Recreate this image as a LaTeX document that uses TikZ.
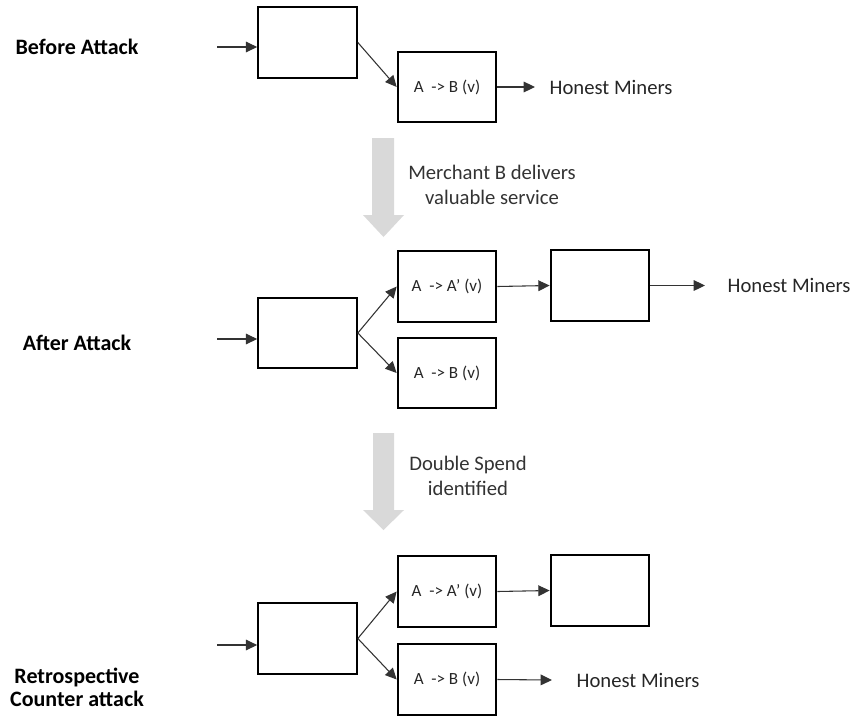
\documentclass[tikz,border=0pt]{standalone}
\usepackage{fontspec}
\setmainfont{Carlito}
\usetikzlibrary{arrows.meta}

\tikzset{
  blk/.style={draw, line width=1.5pt, minimum width=74pt, minimum height=53pt, inner sep=0pt,
    font=\fontsize{12.8}{14}\selectfont, text=black!85},
  lnk/.style={-{Triangle[length=8.5pt,width=8pt]}, line width=0.8pt, black!80},
  stage/.style={font=\fontsize{16.5}{17}\selectfont\bfseries, align=center},
  note/.style={font=\fontsize{15.5}{18.5}\selectfont, text=black!80, align=center},
  miners/.style={anchor=west, font=\fontsize{15.5}{18}\selectfont, text=black!85},
  step arrow/.style={fill=black!15, draw=none}
}

\begin{document}
\begin{tikzpicture}[x=0.75pt, y=-0.75pt]
\useasboundingbox (0,0) rectangle (852,715);

% before attack
\node (s1) at (77,47) [stage] {Before Attack};
\node (a1) at (307.5,42.5) [blk] {};
\node (a2) at (447,87) [blk] {A \ -> B (v)};
\coordinate (i1) at (217,47);
\coordinate (o1) at (535,87);
\node (m1) at (545,87) [miners] {Honest Miners};

\draw [lnk] (i1) -- (i1 -| a1.west);
\draw [lnk] (a1.east) -- (a2.west);
\draw [lnk] (a2.east) -- (o1);

% first step
\fill [step arrow] (372,138) -- (394,138) -- (394,215) -- (404,215) -- (383.5,237)
  -- (363,215) -- (372,215) -- cycle;
\node (n1) at (492,185) [note] {Merchant B delivers\\valuable service};

% after attack
\node (s2) at (77,343) [stage] {After Attack};
\node (b1) at (307.5,333) [blk] {};
\node (b2) at (447,286.5) [blk] {A \ -> A’ (v)};
\node (b3) at (447,373) [blk] {A \ -> B (v)};
\node (b4) at (600,285.5) [blk] {};
\coordinate (i2) at (217,339);
\coordinate (o2) at (705,285.5);
\node (m2) at (723,285.5) [miners] {Honest Miners};

\draw [lnk] (i2) -- (i2 -| b1.west);
\draw [lnk] (b1.east) -- (b2.west);
\draw [lnk] (b1.east) -- (b3.west);
\draw [lnk] (b2.east) -- (b4.west);
\draw [lnk] (b4.east) -- (o2);

% second step
\fill [step arrow] (373,433) -- (394,433) -- (394,510) -- (404,510) -- (383.5,530)
  -- (363,510) -- (373,510) -- cycle;
\node (n2) at (468,476) [note] {Double Spend\\identified};

% counter attack
\node (s3) at (77,687) [stage] {Retrospective\\Counter attack};
\node (c1) at (307.5,638.5) [blk] {};
\node (c2) at (447,591.5) [blk] {A \ -> A’ (v)};
\node (c3) at (447,679.5) [blk] {A \ -> B (v)};
\node (c4) at (600,590.5) [blk] {};
\coordinate (i3) at (217,645);
\coordinate (o3) at (552,680);
\node (m3) at (572,680) [miners] {Honest Miners};

\draw [lnk] (i3) -- (i3 -| c1.west);
\draw [lnk] (c1.east) -- (c2.west);
\draw [lnk] (c1.east) -- (c3.west);
\draw [lnk] (c2.east) -- (c4.west);
\draw [lnk] (c3.east) -- (o3);

\end{tikzpicture}
\end{document}
